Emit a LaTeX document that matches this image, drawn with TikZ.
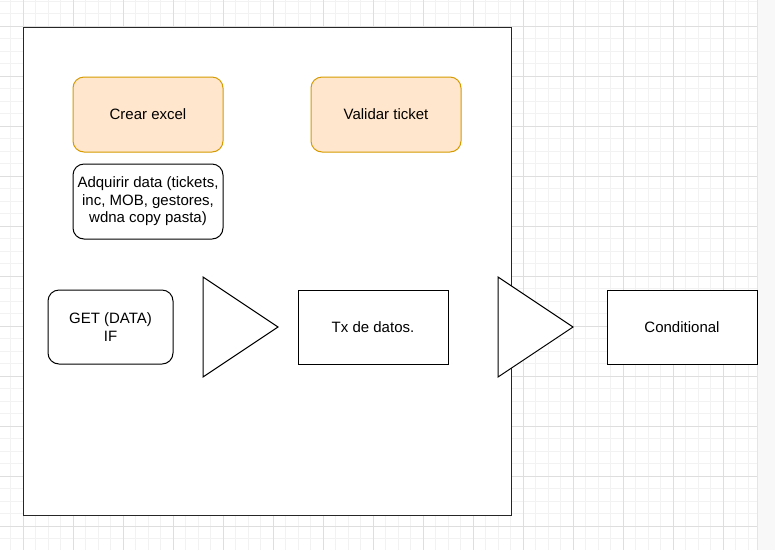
\documentclass[tikz,border=0pt]{standalone}
\usepackage{fontspec}
\setmainfont{Liberation Sans}
\definecolor{minorgrid}{HTML}{F2F2F2}
\definecolor{majorgrid}{HTML}{DEDEDE}
\definecolor{orfill}{HTML}{FFE6CC}
\definecolor{ordraw}{HTML}{D79B00}
\definecolor{sidebar}{HTML}{F8F8F8}
\tikzset{
  boxbase/.style={draw=black, line width=1pt, fill=white, inner sep=0pt, outer sep=0pt, align=center, font=\fontsize{15}{17.5}\selectfont},
  sqbox/.style={boxbase, minimum width=150pt, minimum height=74pt},
  rbox/.style={boxbase, rounded corners=11pt},
  orbox/.style={rbox, draw=ordraw, fill=orfill, minimum width=150pt, minimum height=75pt},
  tri/.style={draw=black, line width=1pt, fill=white, line join=miter},
}
\begin{document}
\begin{tikzpicture}[x=1pt,y=-1pt]
\useasboundingbox (0,0) rectangle (775,550);
\fill[white] (0,0) rectangle (757,550);
\fill[sidebar] (757,0) rectangle (775,550);
% grid
\foreach \i in {0,...,59}{
  \pgfmathsetmacro\gx{10.5+12.5*\i}
  \draw[minorgrid, line width=0.8pt] (\gx,0) -- (\gx,550);
}
\foreach \j in {0,...,43}{
  \pgfmathsetmacro\gy{1+12.5*\j}
  \draw[minorgrid, line width=0.8pt] (0,\gy) -- (757,\gy);
}
\foreach \i in {0,...,14}{
  \pgfmathsetmacro\gx{23+50*\i}
  \draw[majorgrid, line width=0.8pt] (\gx,0) -- (\gx,550);
}
\foreach \j in {0,...,10}{
  \pgfmathsetmacro\gy{26+50*\j}
  \draw[majorgrid, line width=0.8pt] (0,\gy) -- (757,\gy);
}
\draw[line width=0.8pt, color=black!10] (757,0) -- (757,550);
% container
\node[boxbase, minimum width=488pt, minimum height=488pt, draw=black!85] (container) at (267,271) {};
% top boxes
\node[orbox] (crear) at (148,114.5) {Crear excel};
\node[orbox] (validar) at (386,114.5) {Validar ticket};
\node[rbox, minimum width=150pt, minimum height=75pt] (adquirir) at (148,201.5) {Adquirir data (tickets,\\inc, MOB, gestores,\\wdna copy pasta)};
% row
\node[rbox, minimum width=125pt, minimum height=74pt] (get) at (110.5,327) {GET (DATA)\\IF};
\draw[tri] (203,277) -- (278,327) -- (203,377) -- cycle;
\node[sqbox] (tx) at (373,327) {Tx de datos.};
\draw[tri] (498,277) -- (573,327) -- (498,377) -- cycle;
\node[sqbox] (cond) at (682,327) {Conditional};
\end{tikzpicture}
\end{document}
